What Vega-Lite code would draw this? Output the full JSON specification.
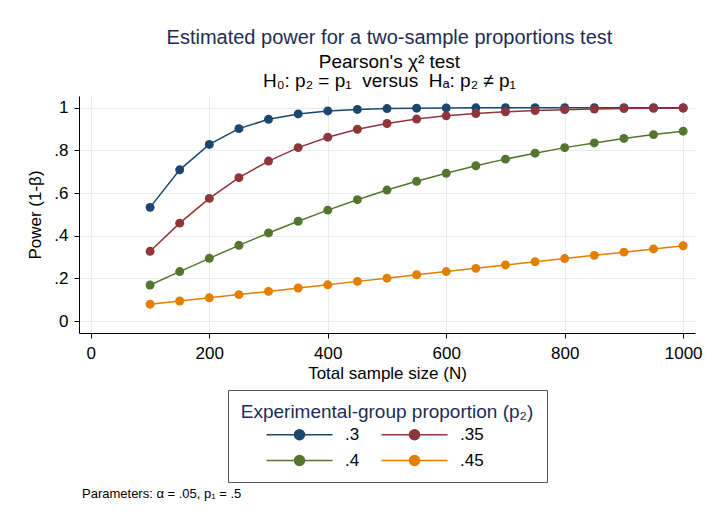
{
  "$schema": "https://vega.github.io/schema/vega-lite/v6.json",
  "background": "white",
  "padding": {"left": 26, "top": 28, "right": 5, "bottom": 5},
  "title": {
    "text": "Estimated power for a two-sample proportions test",
    "subtitle": ["Pearson's χ² test", "H₀: p₂ = p₁\u00a0\u00a0versus\u00a0\u00a0Hₐ: p₂ ≠ p₁"],
    "anchor": "middle",
    "dx": 25,
    "font": "Liberation Sans",
    "fontSize": 20,
    "fontWeight": "normal",
    "color": "#1e2c55",
    "subtitleFont": "Liberation Sans",
    "subtitleFontSize": 19,
    "subtitleColor": "black",
    "subtitlePadding": 5,
    "subtitleLineHeight": 19,
    "offset": 5
  },
  "spacing": 4,
  "resolve": {"scale": {"color": "independent"}, "legend": {"color": "independent"}},
  "vconcat": [
    {
      "width": 616,
      "height": 237,
      "data": {
        "values": [
          {"N": 100, "p2": ".3", "power": 0.533}, {"N": 150, "p2": ".3", "power": 0.709}, {"N": 200, "p2": ".3", "power": 0.828}, {"N": 250, "p2": ".3", "power": 0.902}, {"N": 300, "p2": ".3", "power": 0.946}, {"N": 350, "p2": ".3", "power": 0.971}, {"N": 400, "p2": ".3", "power": 0.985}, {"N": 450, "p2": ".3", "power": 0.992}, {"N": 500, "p2": ".3", "power": 0.996}, {"N": 550, "p2": ".3", "power": 0.998}, {"N": 600, "p2": ".3", "power": 0.999}, {"N": 650, "p2": ".3", "power": 0.9995}, {"N": 700, "p2": ".3", "power": 0.9998}, {"N": 750, "p2": ".3", "power": 0.9999}, {"N": 800, "p2": ".3", "power": 1.0}, {"N": 850, "p2": ".3", "power": 1.0}, {"N": 900, "p2": ".3", "power": 1.0}, {"N": 950, "p2": ".3", "power": 1.0}, {"N": 1000, "p2": ".3", "power": 1.0},
          {"N": 100, "p2": ".35", "power": 0.327}, {"N": 150, "p2": ".35", "power": 0.459}, {"N": 200, "p2": ".35", "power": 0.575}, {"N": 250, "p2": ".35", "power": 0.672}, {"N": 300, "p2": ".35", "power": 0.75}, {"N": 350, "p2": ".35", "power": 0.813}, {"N": 400, "p2": ".35", "power": 0.862}, {"N": 450, "p2": ".35", "power": 0.899}, {"N": 500, "p2": ".35", "power": 0.926}, {"N": 550, "p2": ".35", "power": 0.947}, {"N": 600, "p2": ".35", "power": 0.962}, {"N": 650, "p2": ".35", "power": 0.973}, {"N": 700, "p2": ".35", "power": 0.981}, {"N": 750, "p2": ".35", "power": 0.987}, {"N": 800, "p2": ".35", "power": 0.991}, {"N": 850, "p2": ".35", "power": 0.994}, {"N": 900, "p2": ".35", "power": 0.996}, {"N": 950, "p2": ".35", "power": 0.997}, {"N": 1000, "p2": ".35", "power": 0.998},
          {"N": 100, "p2": ".4", "power": 0.169}, {"N": 150, "p2": ".4", "power": 0.232}, {"N": 200, "p2": ".4", "power": 0.294}, {"N": 250, "p2": ".4", "power": 0.355}, {"N": 300, "p2": ".4", "power": 0.413}, {"N": 350, "p2": ".4", "power": 0.468}, {"N": 400, "p2": ".4", "power": 0.52}, {"N": 450, "p2": ".4", "power": 0.569}, {"N": 500, "p2": ".4", "power": 0.614}, {"N": 550, "p2": ".4", "power": 0.655}, {"N": 600, "p2": ".4", "power": 0.693}, {"N": 650, "p2": ".4", "power": 0.728}, {"N": 700, "p2": ".4", "power": 0.759}, {"N": 750, "p2": ".4", "power": 0.787}, {"N": 800, "p2": ".4", "power": 0.813}, {"N": 850, "p2": ".4", "power": 0.835}, {"N": 900, "p2": ".4", "power": 0.856}, {"N": 950, "p2": ".4", "power": 0.874}, {"N": 1000, "p2": ".4", "power": 0.89},
          {"N": 100, "p2": ".45", "power": 0.079}, {"N": 150, "p2": ".45", "power": 0.094}, {"N": 200, "p2": ".45", "power": 0.109}, {"N": 250, "p2": ".45", "power": 0.124}, {"N": 300, "p2": ".45", "power": 0.139}, {"N": 350, "p2": ".45", "power": 0.155}, {"N": 400, "p2": ".45", "power": 0.17}, {"N": 450, "p2": ".45", "power": 0.186}, {"N": 500, "p2": ".45", "power": 0.201}, {"N": 550, "p2": ".45", "power": 0.217}, {"N": 600, "p2": ".45", "power": 0.232}, {"N": 650, "p2": ".45", "power": 0.247}, {"N": 700, "p2": ".45", "power": 0.263}, {"N": 750, "p2": ".45", "power": 0.278}, {"N": 800, "p2": ".45", "power": 0.293}, {"N": 850, "p2": ".45", "power": 0.308}, {"N": 900, "p2": ".45", "power": 0.323}, {"N": 950, "p2": ".45", "power": 0.338}, {"N": 1000, "p2": ".45", "power": 0.353}
        ]
      },
      "encoding": {
        "x": {
          "field": "N",
          "type": "quantitative",
          "scale": {"domain": [-20, 1020], "nice": false, "zero": false},
          "axis": {
            "title": "Total sample size (N)",
            "values": [0, 200, 400, 600, 800, 1000],
            "format": "d",
            "labelPadding": 7,
            "titlePadding": 4
          }
        },
        "y": {
          "field": "power",
          "type": "quantitative",
          "scale": {"domain": [-0.056, 1.055], "nice": false, "zero": false},
          "axis": {
            "title": "Power (1-β)",
            "values": [0, 0.2, 0.4, 0.6, 0.8, 1],
            "labelExpr": "replace(format(datum.value, '.1~f'), '0.', '.')",
            "labelPadding": 6,
            "titlePadding": 9
          }
        },
        "color": {
          "field": "p2",
          "type": "nominal",
          "scale": {"domain": [".3", ".35", ".4", ".45"], "range": ["#1a476f", "#90353b", "#55752f", "#e37e00"]},
          "legend": {
            "title": "Experimental-group proportion (p₂)",
            "orient": "bottom",
            "direction": "horizontal",
            "columns": 2,
            "gridAlign": "each",
            "columnPadding": -18,
            "rowPadding": 8,
            "padding": 13,
            "offset": 9,
            "strokeColor": "#555555",
            "titleFont": "Liberation Sans",
            "titleFontSize": 19,
            "titleFontWeight": "normal",
            "titleColor": "#1e2c55",
            "titlePadding": 4,
            "titleLimit": 600,
            "titleAnchor": "middle",
            "labelFont": "Liberation Sans",
            "labelFontSize": 17,
            "labelColor": "black",
            "labelOffset": 37,
            "symbolType": "M-13.8,0L-13.8,0M-6.6,0L-1,0M1,0L6.6,0M1,0A1,1,0,1,1,-1,0A1,1,0,1,1,1,0Z",
            "symbolSize": 100,
            "symbolStrokeWidth": 1.5,
            "encode": {
              "symbols": {
                "update": {
                  "fill": {"scale": "color", "field": "value"},
                  "stroke": {"scale": "color", "field": "value"},
                  "strokeWidth": {"value": 1.5},
                  "strokeCap": {"value": "butt"},
                  "opacity": {"value": 1}
                }
              }
            }
          }
        }
      },
      "layer": [
        {"mark": {"type": "line", "strokeWidth": 1.5}},
        {"mark": {"type": "point", "filled": true, "size": 80, "opacity": 1}}
      ]
    },
    {
      "width": 6,
      "height": 14,
      "data": {"values": [{"note": "Parameters: α = .05, p₁ = .5"}]},
      "mark": {"type": "text", "align": "left", "baseline": "middle", "font": "Liberation Sans", "fontSize": 13, "color": "black"},
      "encoding": {"text": {"field": "note", "type": "nominal"}}
    }
  ],
  "config": {
    "view": {"stroke": null},
    "font": "Liberation Sans",
    "axis": {
      "labelFont": "Liberation Sans",
      "labelFontSize": 17,
      "labelColor": "black",
      "titleFont": "Liberation Sans",
      "titleFontSize": 17,
      "titleFontWeight": "normal",
      "titleColor": "black",
      "domainColor": "black",
      "domainWidth": 1,
      "tickColor": "black",
      "tickSize": 5,
      "gridColor": "#e3eef1",
      "gridWidth": 1,
      "labelAngle": 0
    },
    "legend": {"layout": {"bottom": {"anchor": "middle"}}}
  }
}
